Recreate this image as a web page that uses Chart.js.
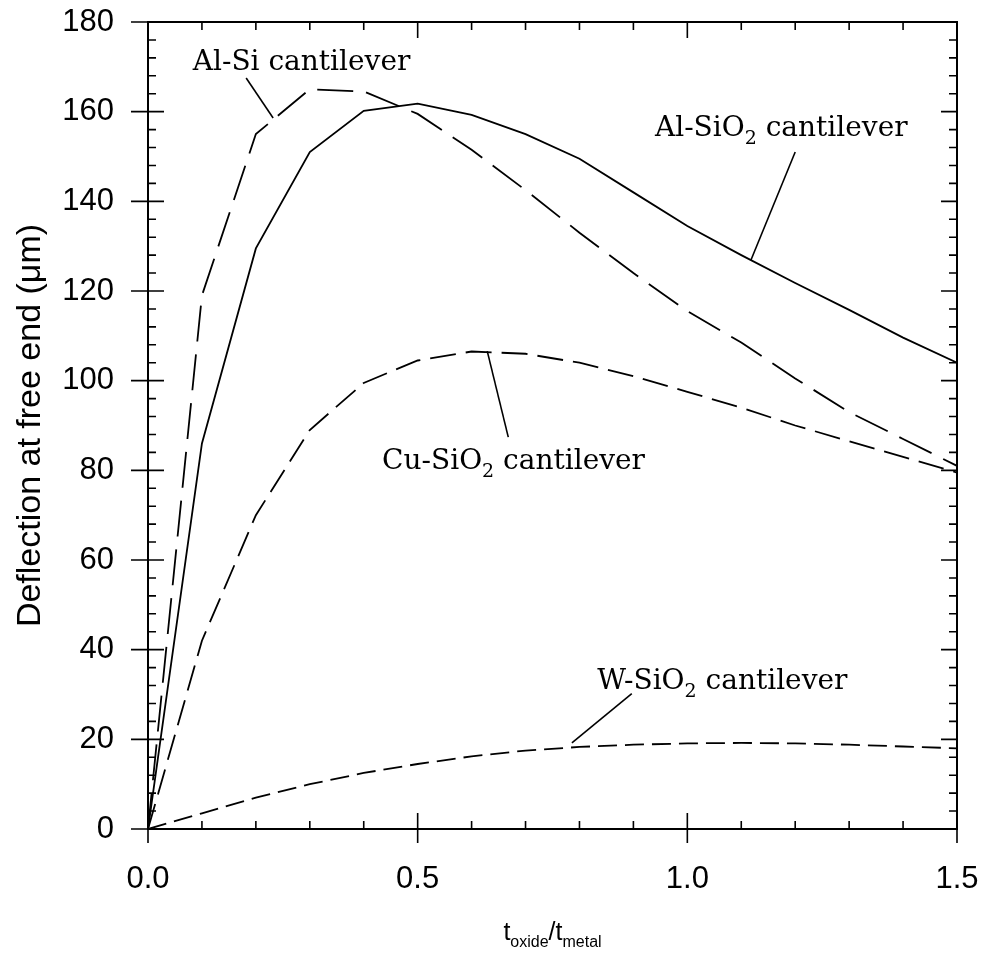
<!DOCTYPE html>
<html>
<head>
<meta charset="utf-8">
<script src="https://cdn.jsdelivr.net/npm/chart.js@4.4.1/dist/chart.umd.min.js"></script>
<style>
  html, body { margin: 0; padding: 0; background: #fff; }
  #wrap { width: 984px; height: 962px; }
</style>
</head>
<body>
<div id="wrap"><canvas id="c" width="984" height="962"></canvas></div>
<script>
// Oxide-to-metal thickness ratio
const ratio = [0, 0.1, 0.2, 0.3, 0.4, 0.5, 0.6, 0.7, 0.8, 0.9, 1.0, 1.1, 1.2, 1.3, 1.4, 1.5];

// Deflection at free end (um) for each cantilever
const alSi   = [0, 119, 155, 165, 164.5, 159.5, 151.5, 142.5, 133, 124, 115.5, 108.5, 100.5, 93, 87, 81];
const alSiO2 = [0, 86, 129.5, 151, 160.2, 161.8, 159.3, 155, 149.5, 142, 134.5, 128, 121.8, 115.8, 109.6, 104];
const cuSiO2 = [0, 42, 70, 89, 99.5, 104.5, 106.5, 106, 104, 101, 97.5, 94, 90, 86.5, 83, 79.5];
const wSiO2  = [0, 3.5, 7, 10, 12.5, 14.5, 16.2, 17.5, 18.3, 18.8, 19.1, 19.2, 19.1, 18.8, 18.4, 18];

const xTickLabels = ['0.0', '0.5', '1.0', '1.5'];
const yTickLabels = ['0', '20', '40', '60', '80', '100', '120', '140', '160', '180'];

// Callout labels: text pieces ([text, subscript?]), anchor and leader line in data units
const callouts = [
  { parts: [['Al-Si cantilever', false]], at: [0.083, 169.3], leader: [[0.182, 167.5], [0.232, 158.6]] },
  { parts: [['Al-SiO', false], ['2', true], [' cantilever', false]], at: [0.94, 154.6], leader: [[1.2, 151], [1.118, 126.9]] },
  { parts: [['Cu-SiO', false], ['2', true], [' cantilever', false]], at: [0.434, 80.2], leader: [[0.668, 87.4], [0.629, 106.6]] },
  { parts: [['W-SiO', false], ['2', true], [' cantilever', false]], at: [0.833, 31.3], leader: [[0.897, 30.2], [0.786, 19.2]] }
];

const SANS = '"Liberation Sans", Arial, sans-serif';
const SERIF = '"DejaVu Serif", serif';

function series(values) {
  return ratio.map((x, i) => ({ x: x, y: values[i] }));
}

function drawParts(ctx, parts, x, y, size, subSize, subDrop, family) {
  let cx = x;
  for (const [text, sub] of parts) {
    ctx.font = (sub ? subSize : size) + 'px ' + family;
    ctx.fillText(text, cx, sub ? y + subDrop : y);
    cx += ctx.measureText(text).width;
  }
  return cx - x;
}

function measureParts(ctx, parts, size, subSize, family) {
  let w = 0;
  for (const [text, sub] of parts) {
    ctx.font = (sub ? subSize : size) + 'px ' + family;
    w += ctx.measureText(text).width;
  }
  return w;
}

const framePlugin = {
  id: 'frameAndNotes',
  afterDatasetsDraw(chart) {
    const { ctx, chartArea: a, scales: { x, y } } = chart;
    ctx.save();
    ctx.strokeStyle = '#000';
    ctx.fillStyle = '#000';
    ctx.lineCap = 'butt';

    // plot frame
    ctx.lineWidth = 2;
    ctx.strokeRect(a.left, a.top, a.right - a.left, a.bottom - a.top);

    ctx.lineWidth = 1.6;
    ctx.beginPath();
    // x ticks: major every 0.5, minor every 0.1
    for (let k = 0; k <= 15; k++) {
      const px = x.getPixelForValue(k / 10);
      const major = k % 5 === 0;
      const inLen = major ? 16 : 8;
      ctx.moveTo(px, a.bottom + (major ? 14 : 0));
      ctx.lineTo(px, a.bottom - inLen);
      ctx.moveTo(px, a.top);
      ctx.lineTo(px, a.top + inLen);
    }
    // y ticks: major every 20, minor every 4
    for (let v = 0; v <= 180; v += 4) {
      const py = y.getPixelForValue(v);
      const major = v % 20 === 0;
      const inLen = major ? 16 : 8;
      ctx.moveTo(a.left - (major ? 17 : 0), py);
      ctx.lineTo(a.left + inLen, py);
      ctx.moveTo(a.right, py);
      ctx.lineTo(a.right - inLen, py);
    }
    ctx.stroke();

    // callouts
    ctx.lineWidth = 1.6;
    ctx.textBaseline = 'alphabetic';
    ctx.textAlign = 'left';
    for (const c of callouts) {
      ctx.beginPath();
      ctx.moveTo(x.getPixelForValue(c.leader[0][0]), y.getPixelForValue(c.leader[0][1]));
      ctx.lineTo(x.getPixelForValue(c.leader[1][0]), y.getPixelForValue(c.leader[1][1]));
      ctx.stroke();
      drawParts(ctx, c.parts, x.getPixelForValue(c.at[0]), y.getPixelForValue(c.at[1]), 28, 19, 8, SERIF);
    }

    // x axis title: t_oxide / t_metal
    const xt = [['t', false], ['oxide', true], ['/t', false], ['metal', true]];
    const w = measureParts(ctx, xt, 25, 16, SANS);
    drawParts(ctx, xt, (a.left + a.right) / 2 - w / 2, 940, 25, 16, 7, SANS);

    // y axis title
    ctx.save();
    ctx.translate(31, (a.top + a.bottom) / 2);
    ctx.rotate(-Math.PI / 2);
    ctx.font = '34px ' + SANS;
    ctx.textAlign = 'center';
    ctx.textBaseline = 'middle';
    ctx.fillText('Deflection at free end (\u03bcm)', 0, 0);
    ctx.restore();

    ctx.restore();
  }
};

const lineStyle = { showLine: true, pointRadius: 0, borderColor: '#000', borderWidth: 1.8, tension: 0, fill: false };

new Chart(document.getElementById('c'), {
  type: 'scatter',
  data: {
    datasets: [
      Object.assign({ label: 'Al-Si cantilever', data: series(alSi), borderDash: [36, 13] }, lineStyle),
      Object.assign({ label: 'Al-SiO2 cantilever', data: series(alSiO2), borderDash: [] }, lineStyle),
      Object.assign({ label: 'Cu-SiO2 cantilever', data: series(cuSiO2), borderDash: [26, 10] }, lineStyle),
      Object.assign({ label: 'W-SiO2 cantilever', data: series(wSiO2), borderDash: [19, 8] }, lineStyle)
    ]
  },
  options: {
    responsive: false,
    animation: false,
    layout: { padding: { top: 22, right: 27, left: 0, bottom: 0 } },
    plugins: { legend: { display: false }, tooltip: { enabled: false } },
    scales: {
      x: {
        type: 'linear', min: 0, max: 1.5,
        grid: { display: false, drawTicks: false },
        border: { display: false },
        ticks: {
          stepSize: 0.5, color: '#000', padding: 32, maxRotation: 0,
          font: { family: SANS, size: 31 },
          callback: (v) => xTickLabels[Math.round(v / 0.5)]
        },
        afterFit: (s) => { s.height = 133; s.paddingLeft = 0; s.paddingRight = 0; }
      },
      y: {
        type: 'linear', min: 0, max: 180,
        grid: { display: false, drawTicks: false },
        border: { display: false },
        ticks: {
          stepSize: 20, color: '#000', padding: 34,
          font: { family: SANS, size: 31 },
          callback: (v) => yTickLabels[Math.round(v / 20)]
        },
        afterFit: (s) => { s.width = 148; s.paddingTop = 0; s.paddingBottom = 0; }
      }
    }
  },
  plugins: [framePlugin]
});
</script>
</body>
</html>
